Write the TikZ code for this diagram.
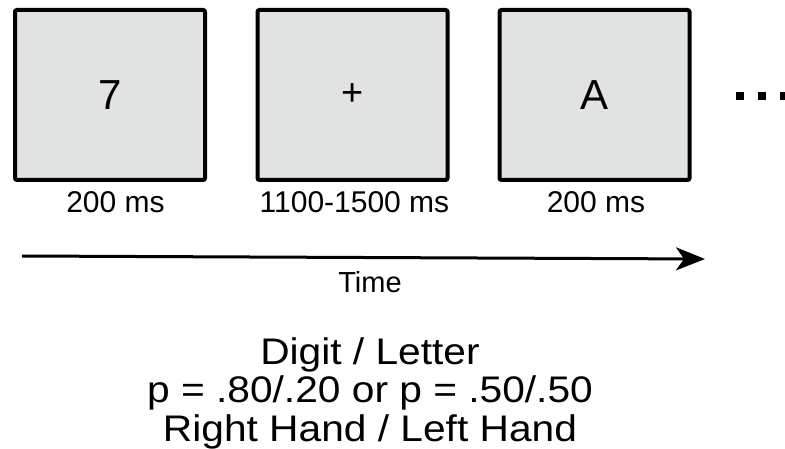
\documentclass[tikz,border=0pt]{standalone}
\usepackage{fontspec}
\setmainfont{Liberation Sans}
\usetikzlibrary{arrows.meta}

\definecolor{boxgray}{RGB}{225,226,226}
\newcommand{\widerline}[1]{\scalebox{1.1}[1]{#1}}

\begin{document}
\begin{tikzpicture}[x=1pt, y=-1pt,
    trialbox/.style={draw, line width=4pt, fill=boxgray, rounded corners=2pt,
        minimum width=190pt, minimum height=170pt, inner sep=0pt},
    durlabel/.style={anchor=base, inner sep=0pt, font=\fontsize{30}{30}\selectfont},
    timearrow/.style={line width=3pt, -{Stealth[length=29pt, width=23pt, inset=8pt]}}]
    \useasboundingbox (0,0) rectangle (785,449);
    % one trial: stimulus, fixation, stimulus
    \node[trialbox, font=\fontsize{42}{42}\selectfont] (digit) at (110,95) {7};
    \node[trialbox, font=\fontsize{38}{38}\selectfont] (fix) at (352.5,95) {+};
    \node[trialbox, font=\fontsize{42}{42}\selectfont] (letter) at (594.5,95) {A};
    \foreach \dx in {740,762,784}
        \fill (\dx-4,92) rectangle (\dx+4,100);
    \node[durlabel] (digitdur) at (115.5,213) {200 ms};
    \node[durlabel] (fixdur) at (354.5,213) {1100-1500 ms};
    \node[durlabel] (letterdur) at (596,213) {200 ms};
    % time axis
    \coordinate (tstart) at (22,256);
    \coordinate (tend) at (705,259);
    \draw[timearrow] (tstart) -- (tend);
    \node[anchor=base, inner sep=0pt, font=\fontsize{29}{29}\selectfont] (time) at (370,293) {Time};
    % conditions
    \node[align=center, inner sep=0pt, font=\fontsize{37}{38.5}\selectfont] (cond) at (370,393)
        {\widerline{Digit / Letter}\\\widerline{p = .80/.20 or p = .50/.50}\\\widerline{Right Hand / Left Hand}};
\end{tikzpicture}
\end{document}
